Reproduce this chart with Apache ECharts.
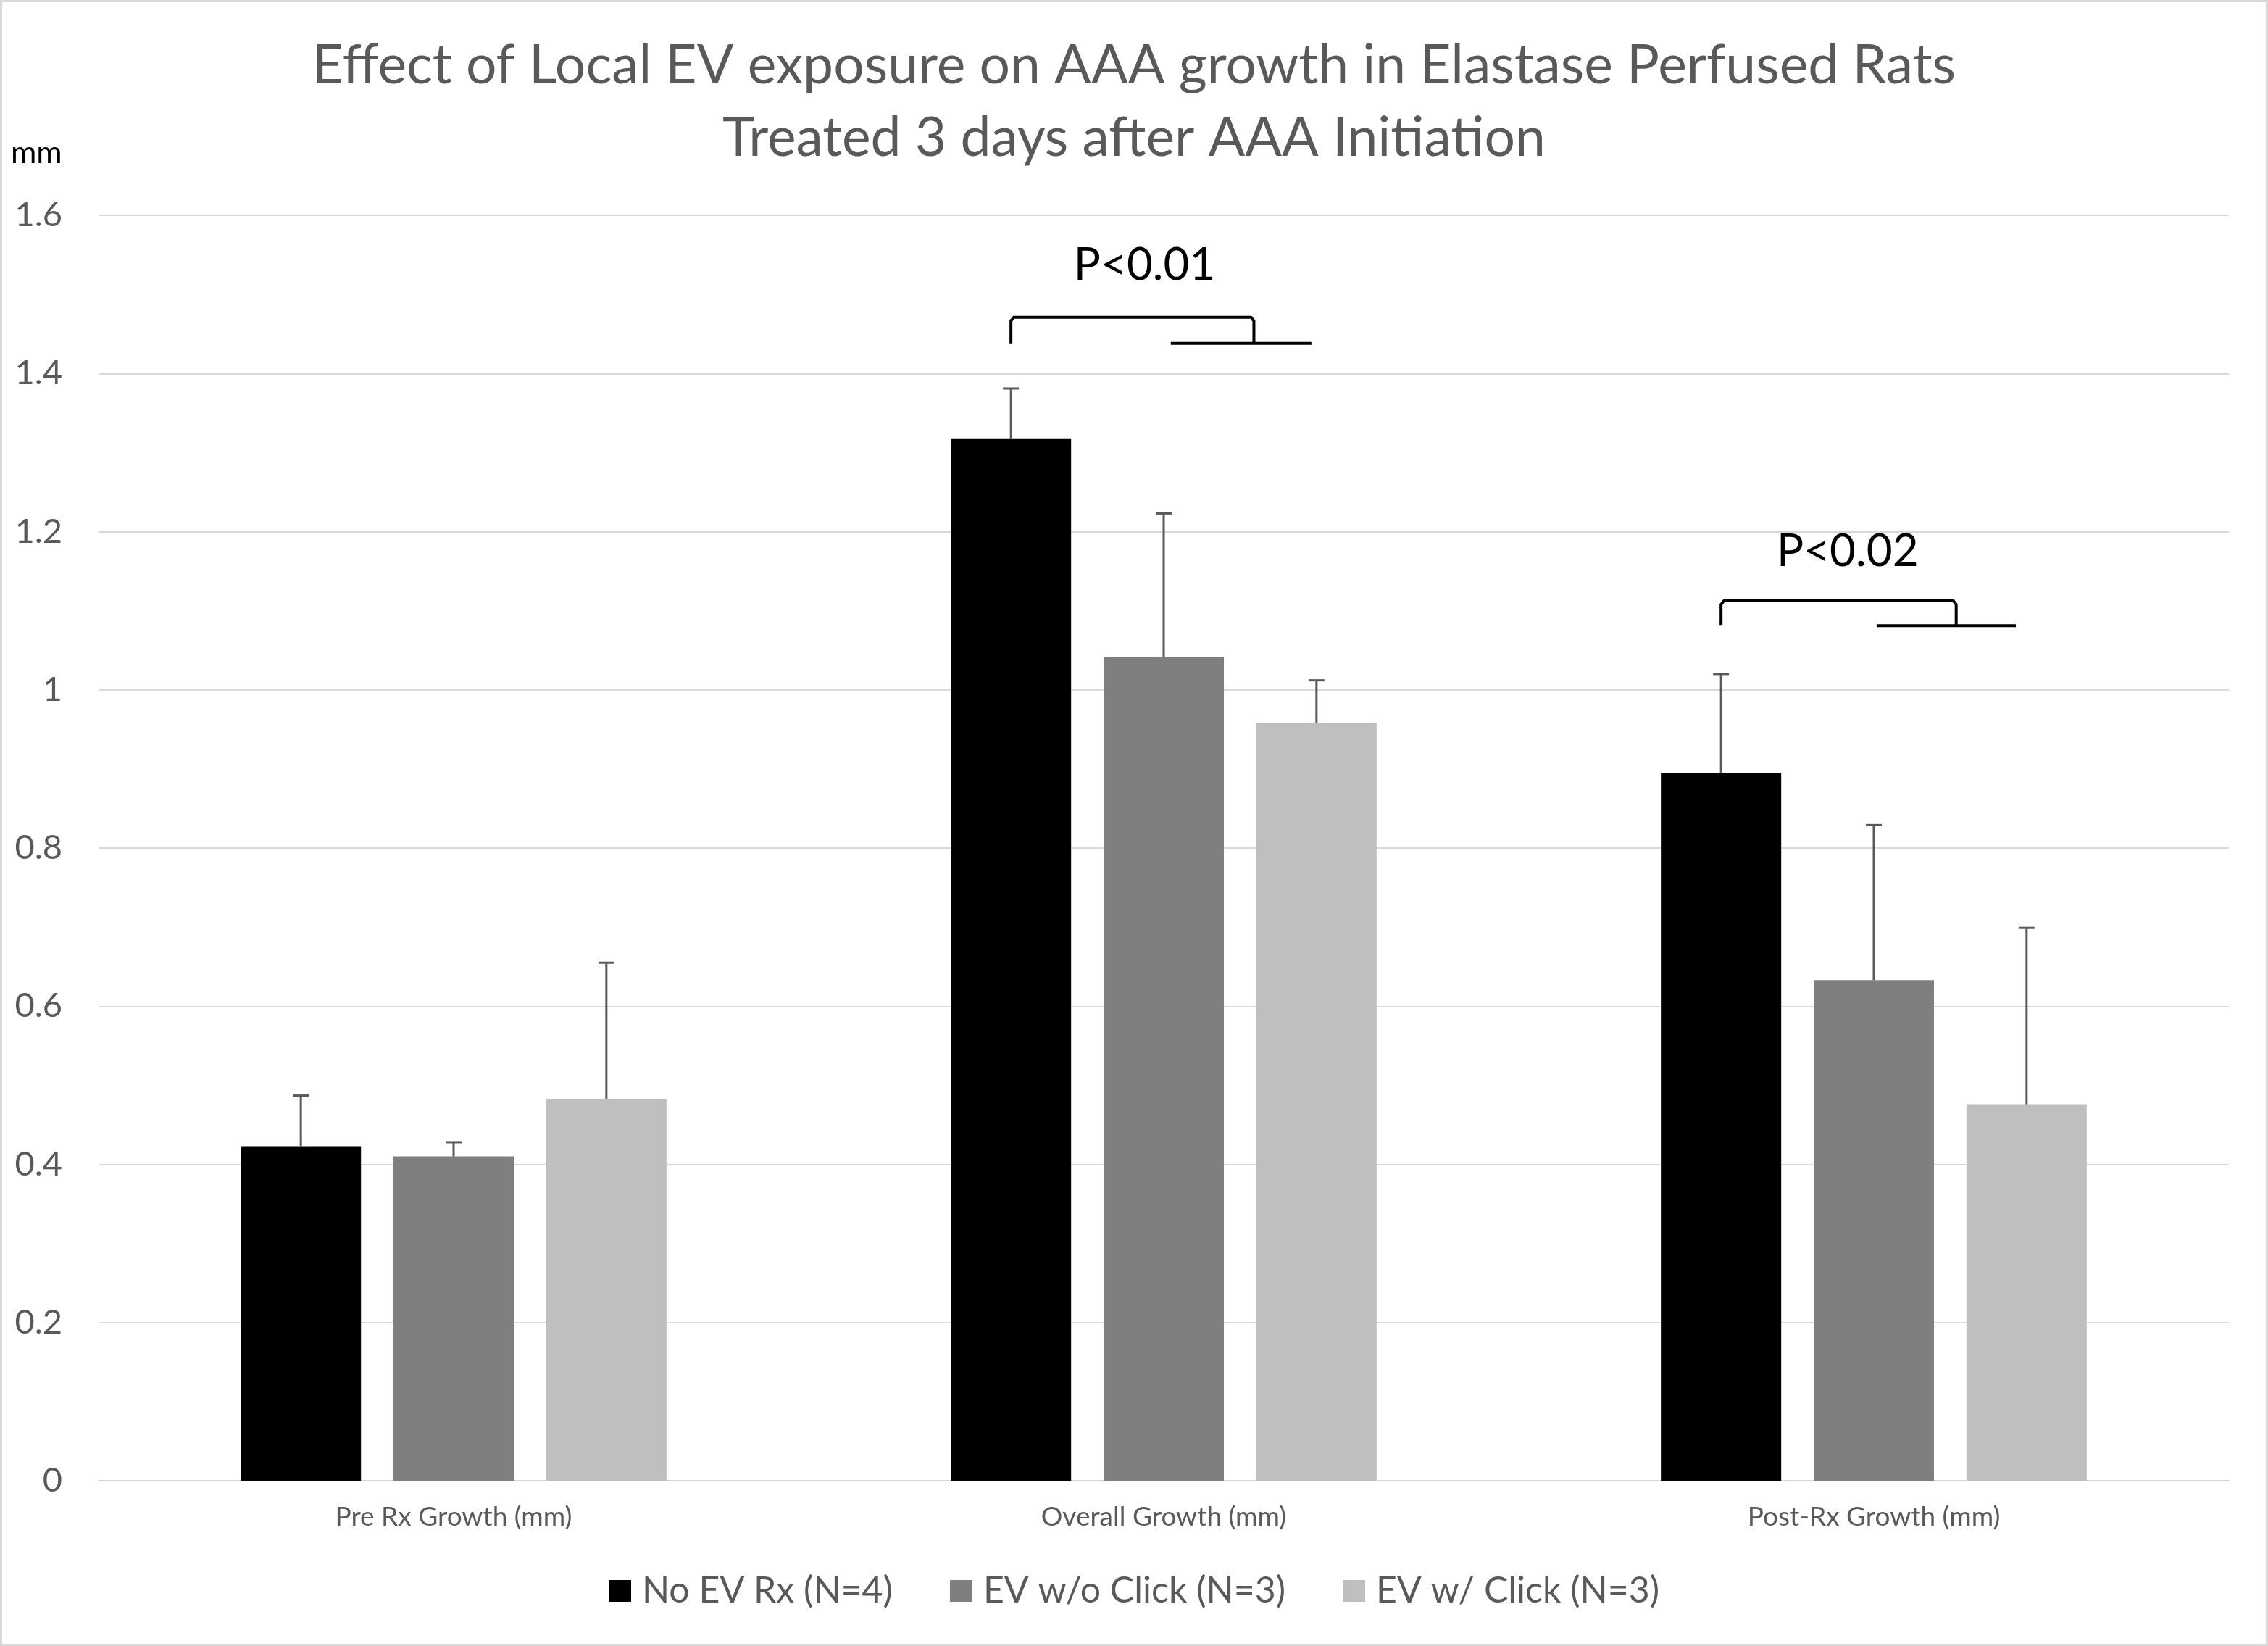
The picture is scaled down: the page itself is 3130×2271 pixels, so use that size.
<!DOCTYPE html>
<html>
<head>
<meta charset="UTF-8">
<script src="https://cdn.jsdelivr.net/npm/echarts@6/dist/echarts.min.js"></script>
<style>
  html, body { margin: 0; padding: 0; background: #fff; }
  #chart { width: 3130px; height: 2271px; }
</style>
</head>
<body>
<div id="chart"></div>
<script type="text/javascript">
// Data
const categories = ['Pre Rx Growth (mm)', 'Overall Growth (mm)', 'Post-Rx Growth (mm)'];
const seriesNames = ['No EV Rx (N=4)', 'EV w/o Click (N=3)', 'EV w/ Click (N=3)'];
const colors = ['#000000', '#7f7f7f', '#bfbfbf'];
const noEv = [0.423, 1.317, 0.895];
const evNoClick = [0.410, 1.042, 0.633];
const evClick = [0.483, 0.958, 0.476];
const errNoEv = [0.064, 0.064, 0.125];
const errNoClick = [0.018, 0.181, 0.196];
const errClick = [0.172, 0.054, 0.223];
const yTicks = [0, 0.2, 0.4, 0.6, 0.8, 1, 1.2, 1.4, 1.6];

// significance brackets (category index, y values in mm)
const pLabels = ['P<0.01', 'P<0.02'];
const pCats = [1, 2];
const pTextY = [1.537, 1.175];
const pTop = [1.471, 1.1125];
const pBottom = [1.438, 1.081];

const means = [noEv, evNoClick, evClick];
const errs = [errNoEv, errNoClick, errClick];

const FONT = 'Lato';
const BAR_W = 0.1694;   // share of a category band
const BAR_GAP = 0.27;   // share of bar width
const slot = BAR_W * (1 + BAR_GAP);

const chart = echarts.init(document.getElementById('chart'));

const barSeries = seriesNames.map(function (name, i) {
  return {
    name: name,
    type: 'bar',
    barWidth: (BAR_W * 100) + '%',
    barGap: (BAR_GAP * 100) + '%',
    itemStyle: { color: colors[i] },
    data: means[i],
    z: 2
  };
});

const errorSeries = seriesNames.map(function (name, i) {
  return {
    type: 'custom',
    z: 3,
    silent: true,
    data: categories.map(function (c, k) { return [k, means[i][k], errs[i][k]]; }),
    renderItem: function (params, api) {
      const cat = api.value(0);
      const band = api.size([1, 0])[0];
      const dx = (i - 1) * band * slot;
      const lo = api.coord([cat, api.value(1)]);
      const hi = api.coord([cat, api.value(1) + api.value(2)]);
      const x = lo[0] + dx;
      const st = { stroke: '#595959', lineWidth: 3 };
      return {
        type: 'group',
        children: [
          { type: 'line', shape: { x1: x, y1: lo[1], x2: x, y2: hi[1] }, style: st },
          { type: 'line', shape: { x1: x - 11, y1: hi[1], x2: x + 11, y2: hi[1] }, style: st }
        ]
      };
    }
  };
});

const bracketSeries = {
  type: 'custom',
  z: 4,
  silent: true,
  data: pCats.map(function (c, k) { return [c, pTop[k], pBottom[k], pTextY[k], k]; }),
  renderItem: function (params, api) {
    const cat = api.value(0);
    const k = api.value(4);
    const band = api.size([1, 0])[0];
    const c = api.coord([cat, 0])[0];
    const yt = api.coord([cat, api.value(1)])[1];
    const yb = api.coord([cat, api.value(2)])[1];
    const ty = api.coord([cat, api.value(3)])[1];
    const xl = c - band * slot;
    const xr = c + band * (k === 0 ? 0.127 : 0.116);
    const h1 = c + band * (k === 0 ? 0.010 : 0.004);
    const h2 = c + band * (k === 0 ? 0.208 : 0.200);
    const st = { stroke: '#000', lineWidth: 4, fill: null };
    return {
      type: 'group',
      children: [
        { type: 'polyline', shape: { points: [[xl, yb], [xl, yt + 5], [xl + 4, yt], [xr - 4, yt], [xr, yt + 5], [xr, yb]] }, style: st },
        { type: 'line', shape: { x1: h1, y1: yb, x2: h2, y2: yb }, style: st },
        { type: 'text', x: c + band * (k === 0 ? -0.027 : -0.037), y: ty,
          style: { text: pLabels[k], fill: '#000', font: '62px ' + FONT, textAlign: 'center', textVerticalAlign: 'middle' } }
      ]
    };
  }
};

const option = {
  backgroundColor: '#ffffff',
  animation: false,
  title: {
    text: 'Effect of Local EV exposure on AAA growth in Elastase Perfused Rats\nTreated 3 days after AAA Initiation',
    left: 'center',
    top: 36,
    textStyle: { fontFamily: FONT, fontSize: 75, fontWeight: 'normal', color: '#595959', lineHeight: 100, align: 'center' }
  },
  grid: { left: 136, right: 54, top: 297, bottom: 228 },
  legend: {
    data: seriesNames,
    bottom: 46,
    left: 'center',
    icon: 'rect',
    itemWidth: 31,
    itemHeight: 30,
    itemGap: 79,
    textStyle: { fontFamily: FONT, fontSize: 50, color: '#595959', padding: [0, 0, 0, 10] }
  },
  xAxis: {
    type: 'category',
    data: categories,
    axisTick: { show: false },
    axisLine: { lineStyle: { color: '#d9d9d9', width: 2 } },
    axisLabel: { fontFamily: FONT, fontSize: 37, color: '#595959', margin: 32 }
  },
  yAxis: {
    type: 'value',
    min: yTicks[0],
    max: yTicks[yTicks.length - 1],
    interval: 0.2,
    axisLine: { show: false },
    axisTick: { show: false },
    splitLine: { lineStyle: { color: '#d9d9d9', width: 2 } },
    axisLabel: { fontFamily: FONT, fontSize: 47, color: '#595959', margin: 50 }
  },
  graphic: [
    { type: 'rect', shape: { x: 1.5, y: 1.5, width: 3127, height: 2268 }, style: { fill: null, stroke: '#d9d9d9', lineWidth: 3 }, z: 10 },
    { type: 'text', left: 15, top: 190, style: { text: 'mm', fill: '#000', font: '43px ' + FONT } }
  ],
  series: barSeries.concat(errorSeries).concat([bracketSeries])
};

chart.setOption(option);
</script>
</body>
</html>
